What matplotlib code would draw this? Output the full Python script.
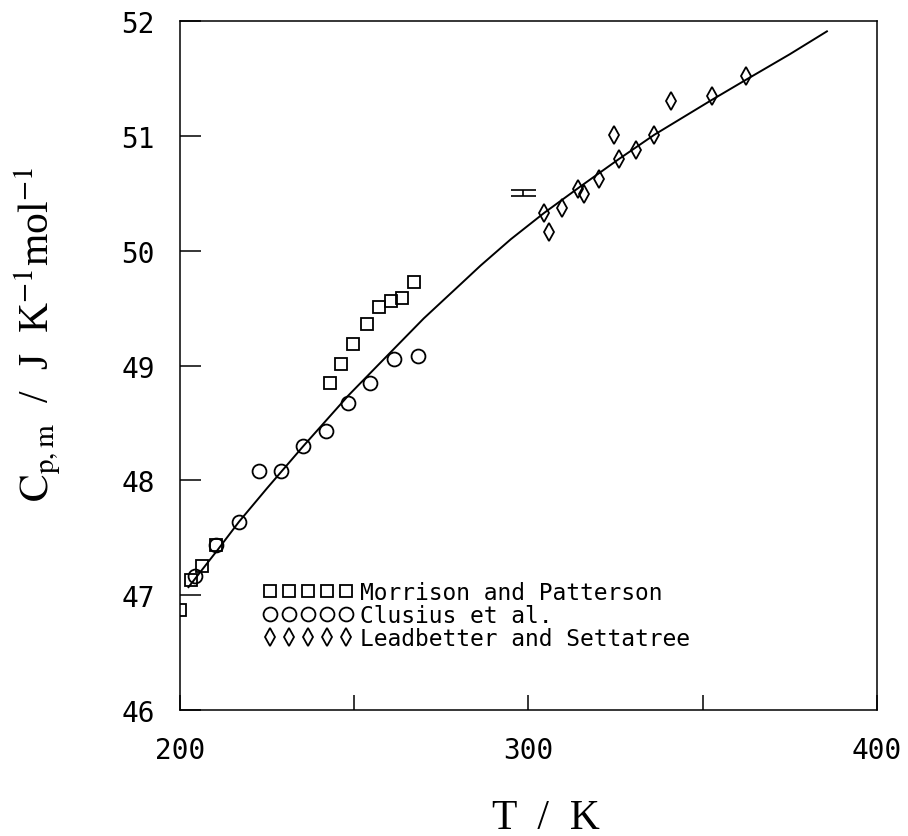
import matplotlib
matplotlib.use("Agg")
import matplotlib.pyplot as plt

plt.rcParams.update({
    "font.family": ["DejaVu Sans Mono"],
    "mathtext.fontset": "stix",
    "axes.linewidth": 1.1,
})

# data
morrison_T = [200.0, 203.3, 206.5, 210.5, 243.0, 246.2, 249.7, 253.8, 257.1, 260.5, 263.8, 267.3]
morrison_cp = [46.87, 47.13, 47.25, 47.44, 48.85, 49.01, 49.19, 49.36, 49.51, 49.56, 49.59, 49.73]

clusius_T = [204.3, 210.5, 217.0, 222.8, 229.0, 235.5, 242.0, 248.4, 254.7, 261.4, 268.3]
clusius_cp = [47.17, 47.44, 47.64, 48.08, 48.08, 48.30, 48.43, 48.67, 48.85, 49.06, 49.08]

leadbetter_T = [304.6, 306.0, 309.6, 314.4, 316.1, 320.4, 324.7, 326.1, 330.9, 336.2, 341.0, 352.6, 362.5]
leadbetter_cp = [50.33, 50.16, 50.37, 50.54, 50.49, 50.62, 51.01, 50.80, 50.88, 51.01, 51.30, 51.35, 51.52]

# single point with error bar near 300 K
point_T = [298.6]
point_cp = [50.50]
point_err = [0.026]

# smooth curve
fit_T = [202.5, 211, 217, 225, 235.5, 248.4, 260, 270, 281, 286.3, 295, 304.6,
         315, 326.1, 336.2, 352.5, 362, 375, 385.7]
fit_cp = [47.07, 47.40, 47.64, 47.93, 48.30, 48.74, 49.10, 49.41, 49.72, 49.87, 50.10, 50.33,
          50.56, 50.80, 51.01, 51.31, 51.48, 51.71, 51.91]

labels = ["Morrison and Patterson", "Clusius et al.", "Leadbetter and Settatree"]

fig = plt.figure(figsize=(9.08, 8.37), dpi=100)
ax = fig.add_axes([0.198, 0.1505, 0.7676, 0.8232])

ax.plot(fit_T, fit_cp, color="black", lw=1.4)
mk = dict(ls="none", mfc="none", mec="black", mew=1.3)
ax.plot(morrison_T, morrison_cp, marker="s", ms=8, label=labels[0], **mk)
ax.plot(clusius_T, clusius_cp, marker="o", ms=10, label=labels[1], **mk)
ax.plot(leadbetter_T, leadbetter_cp, marker="d", ms=8.7, label=labels[2], **mk)
ax.errorbar(point_T, point_cp, yerr=point_err, fmt="none", ecolor="black",
            elinewidth=1.2, capsize=9, capthick=1.2)

ax.set_xlim(200, 400)
ax.set_ylim(46, 52)
ax.set_xticks([200, 300, 400])
ax.set_xticks([250, 350], minor=True)
ax.set_yticks([46, 47, 48, 49, 50, 51, 52])
ax.tick_params(axis="x", which="both", direction="in", length=11, width=1.1,
               top=False, pad=19, labelsize=20)
ax.tick_params(axis="y", direction="in", length=15, width=1.1,
               right=False, pad=18, labelsize=20)

ax.set_xlabel("T  /  K", family="Liberation Serif", fontsize=30)
ax.xaxis.set_label_coords(0.525, -0.128)
ax.set_ylabel(r"$\mathrm{C_{p,m}}$  /  J  K$^{-1}$mol$^{-1}$",
              family="Liberation Serif", fontsize=30)
ax.yaxis.set_label_coords(-0.168, 0.546)

leg = ax.legend(loc="lower left", bbox_to_anchor=(0.12, 0.087), frameon=False,
                numpoints=5, handlelength=3.9, handletextpad=0.3,
                labelspacing=0.0, borderpad=0, borderaxespad=0,
                prop={"family": "DejaVu Sans Mono", "size": 16.5})

fig.savefig("out.png", dpi=100)
